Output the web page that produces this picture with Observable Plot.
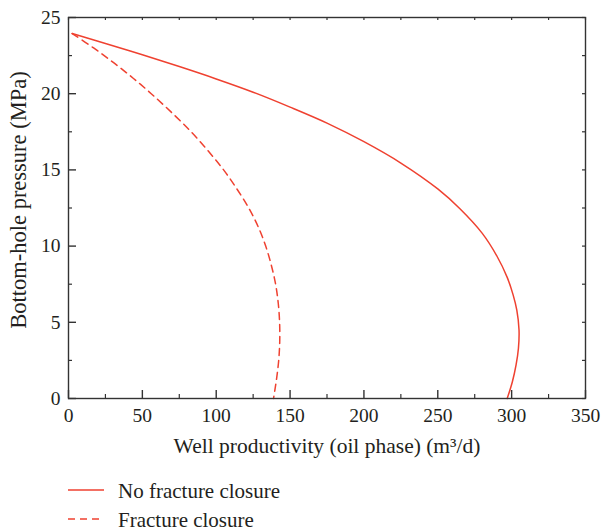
<!DOCTYPE html>
<html>
<head>
<meta charset="utf-8">
<script src="https://cdn.jsdelivr.net/npm/d3@7"></script>
<script src="https://cdn.jsdelivr.net/npm/@observablehq/plot@0.6"></script>
<style>
  html, body { margin: 0; padding: 0; background: #fff; }
  body { width: 601px; height: 530px; overflow: hidden; font-family: "Liberation Serif", serif; color: #231f20; }
  #legend { padding-top: 13px; }
  .row { display: flex; align-items: center; height: 29px; }
  .row svg { margin-left: 68px; margin-right: 14px; }
  .row span { font-size: 21px; line-height: 22px; position: relative; top: 1px; }
</style>
</head>
<body>
<div id="chart"></div>
<div id="legend"></div>
<script>
// ---- data ----
const seriesNames = ["No fracture closure", "Fracture closure"];
// Well productivity (m³/d) vs bottom-hole pressure (MPa)
const noClosureQ = [2.5, 25, 50, 75, 100, 125, 150, 175, 200, 225, 250, 265, 280, 290, 297, 301, 303.5, 305, 304.6, 303, 300.5, 297];
const noClosureP = [23.95, 23.3, 22.55, 21.78, 20.97, 20.1, 19.12, 18.07, 16.85, 15.45, 13.75, 12.45, 10.85, 9.35, 7.95, 6.8, 5.8, 4.5, 3.3, 2.2, 1.1, 0];
const closureQ = [2.5, 17, 31, 44, 56, 70, 83, 94.5, 105, 114, 122, 128.5, 133.5, 137.3, 140.2, 142, 142.9, 143, 142.3, 140.8, 138.8];
const closureP = [23.95, 23, 22, 21, 20, 18.75, 17.5, 16.25, 15, 13.75, 12.5, 11.25, 10, 8.75, 7.5, 6.25, 5, 3.75, 2.5, 1.25, 0];
const xMajorTicks = [0, 50, 100, 150, 200, 250, 300, 350];
const xMinorTicks = [25, 75, 125, 175, 225, 275, 325];
const yMajorTicks = [0, 5, 10, 15, 20, 25];
const yMinorTicks = [2.5, 7.5, 12.5, 17.5, 22.5];
const xLabel = "Well productivity (oil phase) (m³/d)";
const yLabel = "Bottom-hole pressure (MPa)";

const lineColor = "#ef4130";
const axisColor = "#333";
const textColor = "#231f20";

const W = 601, H = 462;
const mL = 68, mR = 16, mT = 17, mB = 64;
const plotW = W - mL - mR, plotH = H - mT - mB;

const noClosure = noClosureQ.map((q, i) => ({q, p: noClosureP[i]}));
const closure = closureQ.map((q, i) => ({q, p: closureP[i]}));

const chart = Plot.plot({
  width: W, height: H,
  marginLeft: mL, marginRight: mR, marginTop: mT, marginBottom: mB,
  style: {fontFamily: "Liberation Serif, serif", fontSize: "19.5px", color: textColor, background: "#fff"},
  x: {domain: [0, 350]},
  y: {domain: [0, 25]},
  marks: [
    Plot.line(noClosure, {x: "q", y: "p", stroke: lineColor, strokeWidth: 1.5, curve: "catmull-rom"}),
    Plot.line(closure, {x: "q", y: "p", stroke: lineColor, strokeWidth: 1.5, strokeDasharray: "7,5", curve: "catmull-rom"}),
    Plot.frame({stroke: axisColor, strokeWidth: 1.4}),
    // bottom ticks (inward)
    Plot.tickX(xMajorTicks, {x: d => d, stroke: axisColor, strokeWidth: 1.4, insetTop: plotH - 8}),
    Plot.tickX(xMinorTicks, {x: d => d, stroke: axisColor, strokeWidth: 1.2, insetTop: plotH - 4}),
    // top ticks
    Plot.tickX(xMajorTicks.concat(xMinorTicks), {x: d => d, stroke: axisColor, strokeWidth: 1.2, insetBottom: plotH - 3}),
    // left ticks (inward)
    Plot.tickY(yMajorTicks, {y: d => d, stroke: axisColor, strokeWidth: 1.4, insetRight: plotW - 8}),
    Plot.tickY(yMinorTicks, {y: d => d, stroke: axisColor, strokeWidth: 1.2, insetRight: plotW - 4}),
    // right ticks
    Plot.tickY(yMajorTicks.concat(yMinorTicks), {y: d => d, stroke: axisColor, strokeWidth: 1.2, insetLeft: plotW - 3}),
    Plot.axisX({ticks: xMajorTicks, tickSize: 0, tickPadding: 10, label: null, fill: textColor}),
    Plot.axisY({ticks: yMajorTicks, tickSize: 0, tickPadding: 8, label: null, fill: textColor}),
    Plot.text([xLabel], {text: d => d, frameAnchor: "bottom", textAnchor: "middle", lineAnchor: "bottom", dy: 54, fontSize: 21.5, fill: textColor}),
    Plot.text([yLabel], {text: d => d, frameAnchor: "left", textAnchor: "middle", rotate: -90, lineAnchor: "top", dx: -58, dy: -8, fontSize: 22.5, fill: textColor})
  ]
});
document.getElementById("chart").appendChild(chart);

// legend
const legend = document.getElementById("legend");
seriesNames.forEach((name, i) => {
  const row = document.createElement("div");
  row.className = "row";
  const dash = i === 0 ? "" : ` stroke-dasharray="7,5"`;
  row.innerHTML = `<svg width="36" height="6"><line x1="0" y1="3" x2="36" y2="3" stroke="${lineColor}" stroke-width="1.5"${dash}/></svg><span>${name}</span>`;
  legend.appendChild(row);
});
</script>
</body>
</html>
